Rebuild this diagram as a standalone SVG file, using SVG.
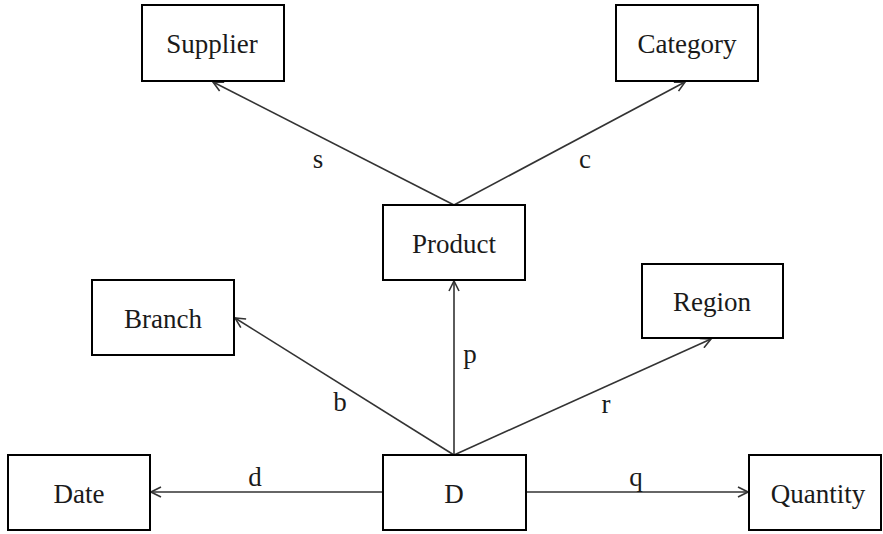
<svg xmlns="http://www.w3.org/2000/svg" width="883" height="534" viewBox="0 0 883 534">
  <style>
    .box { fill: #fff; stroke: #000; stroke-width: 2; }
    .lbl { font-family: "Liberation Serif", "Times New Roman", serif; font-size: 27px; fill: #1a1a1a; text-anchor: middle; }
    .edge { stroke: #333; stroke-width: 1.6; fill: none; marker-end: url(#open); }
    .elbl { font-family: "Liberation Serif", "Times New Roman", serif; font-size: 27px; fill: #1a1a1a; text-anchor: middle; }
  </style>
  <defs>
    <marker id="open" viewBox="0 0 12 12" refX="11" refY="6" markerWidth="12" markerHeight="12" markerUnits="userSpaceOnUse" orient="auto">
      <path d="M1,1 L11,6 L1,11" fill="none" stroke="#333" stroke-width="1.6"/>
    </marker>
  </defs>

  <rect width="883" height="534" fill="#fff"/>

  <g id="connectors">
    <line class="edge" x1="454" y1="205" x2="213" y2="82"/>
    <line class="edge" x1="454" y1="205" x2="685" y2="82"/>
    <line class="edge" x1="454" y1="455" x2="454" y2="281"/>
    <line class="edge" x1="454" y1="455" x2="235" y2="318"/>
    <line class="edge" x1="454" y1="455" x2="711" y2="339"/>
    <line class="edge" x1="383" y1="492" x2="151" y2="492"/>
    <line class="edge" x1="526" y1="492" x2="748" y2="492"/>
    <text class="elbl" x="318" y="168">s</text>
    <text class="elbl" x="585" y="168">c</text>
    <text class="elbl" x="470" y="363">p</text>
    <text class="elbl" x="340" y="411">b</text>
    <text class="elbl" x="606" y="413">r</text>
    <text class="elbl" x="255" y="486">d</text>
    <text class="elbl" x="636" y="486">q</text>
  </g>

  <g id="supplier">
    <rect class="box" x="142" y="5" width="142" height="76"/>
    <text class="lbl" x="212" y="53">Supplier</text>
  </g>
  <g id="category">
    <rect class="box" x="616" y="5" width="142" height="76"/>
    <text class="lbl" x="687" y="53">Category</text>
  </g>
  <g id="product">
    <rect class="box" x="383" y="205" width="142" height="75"/>
    <text class="lbl" x="454" y="253">Product</text>
  </g>
  <g id="branch">
    <rect class="box" x="92" y="280" width="142" height="75"/>
    <text class="lbl" x="163" y="328">Branch</text>
  </g>
  <g id="region">
    <rect class="box" x="642" y="264" width="141" height="74"/>
    <text class="lbl" x="712" y="311">Region</text>
  </g>
  <g id="date">
    <rect class="box" x="8" y="455" width="142" height="75"/>
    <text class="lbl" x="79" y="503">Date</text>
  </g>
  <g id="d">
    <rect class="box" x="383" y="455" width="143" height="75"/>
    <text class="lbl" x="454" y="503">D</text>
  </g>
  <g id="quantity">
    <rect class="box" x="749" y="455" width="132" height="75"/>
    <text class="lbl" x="818" y="503">Quantity</text>
  </g>
</svg>
